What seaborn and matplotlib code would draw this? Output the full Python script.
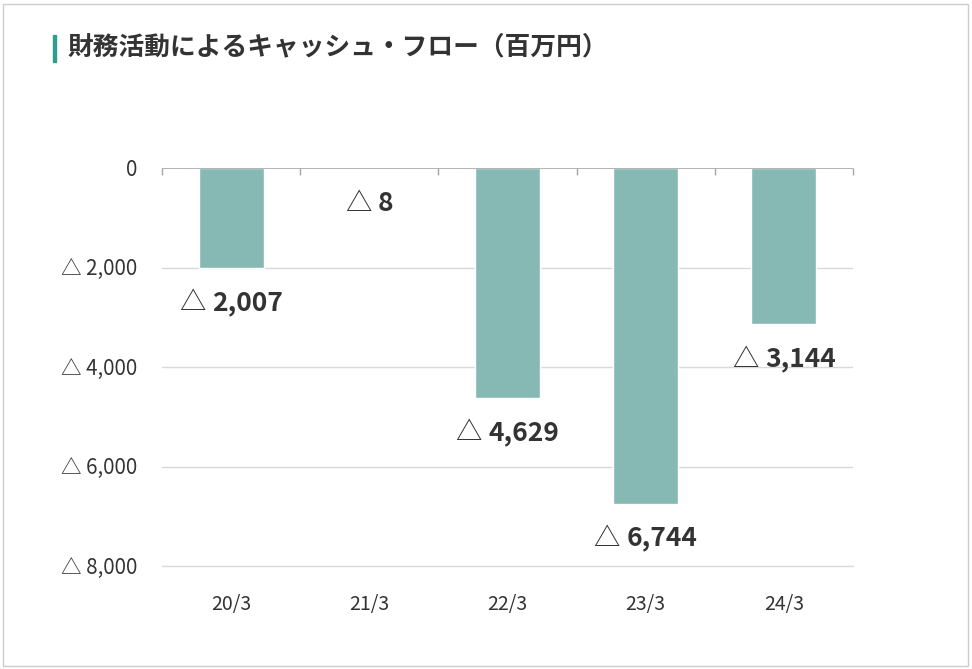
import matplotlib
matplotlib.use("Agg")
import matplotlib.pyplot as plt
import seaborn as sns
import pandas as pd
from matplotlib.offsetbox import TextArea, HPacker, AnnotationBbox
from matplotlib.patches import Rectangle
from matplotlib.ticker import FixedLocator

categories = ["20/3", "21/3", "22/3", "23/3", "24/3"]
values = [-2007, -8, -4629, -6744, -3144]
value_labels = ["2,007", "8", "4,629", "6,744", "3,144"]
y_ticks = [0, -2000, -4000, -6000, -8000]
y_tick_labels = ["0", "△ 2,000", "△ 4,000", "△ 6,000", "△ 8,000"]
title = "財務活動によるキャッシュ・フロー（百万円）"

sns.set_theme(style="white")
plt.rcParams["font.family"] = ["Noto Sans CJK JP", "DejaVu Sans"]

TEXT = "#333333"
BAR = "#86b9b4"

fig = plt.figure(figsize=(9.72, 6.69), dpi=100)
ax = fig.add_axes([162/972, 1-566/669, (853-162)/972, (566-168)/669])

df = pd.DataFrame({"cat": categories, "val": values})
sns.barplot(data=df, x="cat", y="val", color=BAR, width=0.47, ax=ax, saturation=1)

ax.set_ylim(-8000, 0)
ax.set_xlim(-0.5, len(categories) - 0.5)
ax.set_yticks(y_ticks)
ax.set_yticklabels(y_tick_labels)
ax.set_xlabel("")
ax.set_ylabel("")
for s in ax.spines.values():
    s.set_visible(False)

ax.yaxis.grid(True, color="#d9d9d9", linewidth=1)
gls = ax.get_ygridlines()
gls[0].set_visible(False)
gls[-1].set_clip_on(False)
ax.set_axisbelow(True)
ax.axhline(0, color="#a6a6a6", linewidth=1.2, zorder=3)

ax.xaxis.set_minor_locator(FixedLocator([i - 0.5 for i in range(len(categories) + 1)]))
ax.tick_params(axis="x", which="major", length=0, pad=20, labelsize=14, labelcolor=TEXT, bottom=False, top=False)
ax.tick_params(axis="x", which="minor", top=True, bottom=False, direction="in", length=5, color="#a6a6a6", width=1)
ax.tick_params(axis="y", length=0, pad=18, labelsize=14.8, labelcolor=TEXT)

for i, (v, lab) in enumerate(zip(values, value_labels)):
    tri = TextArea("△", textprops=dict(fontsize=19, color=TEXT, fontweight="normal"))
    num = TextArea(lab, textprops=dict(fontsize=19, color=TEXT, fontweight="bold"))
    box = HPacker(children=[tri, num], align="baseline", pad=0, sep=5)
    ab = AnnotationBbox(box, (i, v), xybox=(0, -25), xycoords="data",
                        boxcoords="offset points", frameon=False,
                        box_alignment=(0.5, 0.5), annotation_clip=False)
    ax.add_artist(ab)

fig.text(68/972, 1-47/669, title, fontsize=18.5, fontweight="bold", color=TEXT,
         ha="left", va="center")
fig.patches.append(Rectangle((53/972, 1-62/669), 3/972, 27/669, transform=fig.transFigure,
                             color="#2e9e90", figure=fig))
fig.patches.append(Rectangle((3/972, 3/669), 965/972, 662/669, transform=fig.transFigure,
                             fill=False, edgecolor="#cccccc", linewidth=1, figure=fig))

fig.savefig("out.png", dpi=100)
